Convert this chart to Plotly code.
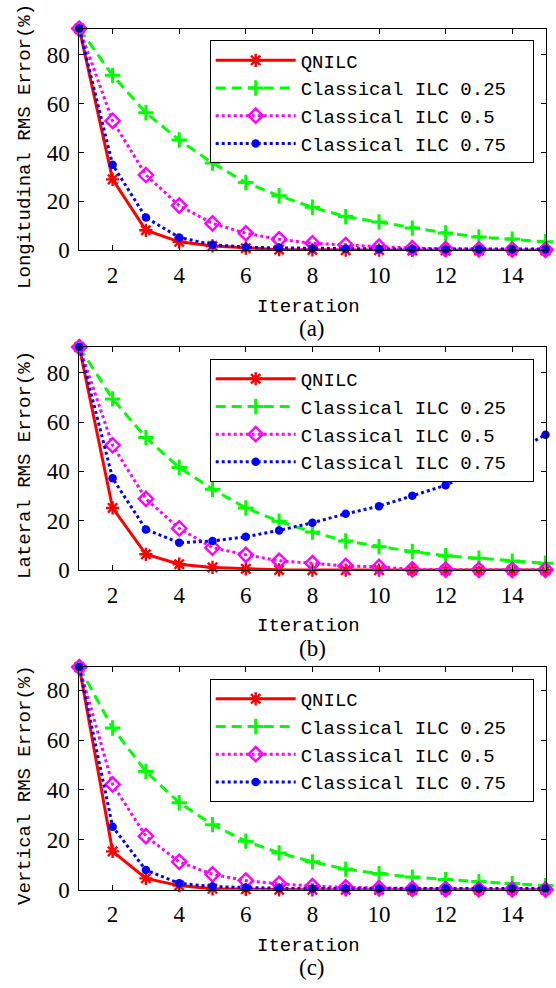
import plotly.graph_objects as go

# ---- data -------------------------------------------------------------
iterations = list(range(1, 16))

series_names = ["QNILC", "Classical ILC 0.25", "Classical ILC 0.5", "Classical ILC 0.75"]

long_qnilc = [90.6, 29.0, 8.2, 3.5, 1.8, 0.9, 0.3, 0.2, 0.1, 0.1, 0.0, 0.0, 0.0, 0.0, 0.0]
long_ilc025 = [90.6, 71.5, 56.2, 45.1, 35.7, 27.7, 22.3, 17.6, 13.8, 11.6, 9.1, 7.1, 5.5, 4.6, 3.5]
long_ilc05 = [90.6, 52.9, 30.8, 18.3, 11.0, 7.0, 4.5, 2.9, 2.2, 1.5, 0.9, 0.6, 0.4, 0.3, 0.2]
long_ilc075 = [90.6, 35.0, 13.4, 5.3, 2.3, 1.3, 1.0, 0.8, 0.7, 0.6, 0.6, 0.5, 0.5, 0.5, 0.5]

lat_qnilc = [90.4, 25.2, 6.4, 2.4, 1.1, 0.5, 0.1, 0.0, 0.0, 0.0, 0.0, 0.0, 0.0, 0.0, 0.0]
lat_ilc025 = [90.4, 69.4, 53.7, 41.6, 32.8, 25.2, 19.8, 15.4, 11.8, 9.5, 7.5, 5.8, 4.8, 3.6, 2.8]
lat_ilc05 = [90.4, 50.6, 28.9, 16.9, 9.1, 6.2, 3.8, 2.8, 1.7, 1.3, 0.3, 0.2, 0.1, 0.1, 0.1]
lat_ilc075 = [90.4, 37.2, 16.5, 11.1, 11.8, 13.5, 16.1, 19.2, 22.8, 25.9, 30.1, 34.4, 40.5, 47.3, 54.9]

vert_qnilc = [89.2, 15.4, 4.6, 1.7, 0.4, 0.2, 0.0, 0.0, 0.0, 0.0, 0.0, 0.0, 0.0, 0.0, 0.0]
vert_ilc025 = [89.2, 64.8, 47.4, 34.9, 26.1, 19.5, 14.8, 11.2, 8.3, 6.5, 5.1, 4.1, 3.3, 2.5, 1.7]
vert_ilc05 = [89.2, 42.2, 21.5, 11.2, 6.2, 3.7, 2.4, 1.5, 1.0, 0.7, 0.4, 0.3, 0.2, 0.2, 0.1]
vert_ilc075 = [89.2, 25.3, 7.9, 2.6, 1.3, 0.8, 0.6, 0.5, 0.5, 0.5, 0.5, 0.5, 0.5, 0.5, 0.5]

y_titles = ["Longitudinal RMS Error(%)", "Lateral RMS Error(%)", "Vertical RMS Error(%)"]
captions = ["(a)", "(b)", "(c)"]
x_title = "Iteration"
x_ticks = [2, 4, 6, 8, 10, 12, 14]
y_ticks = [0, 20, 40, 60, 80]

panel_data = [
    [long_qnilc, long_ilc025, long_ilc05, long_ilc075],
    [lat_qnilc, lat_ilc025, lat_ilc05, lat_ilc075],
    [vert_qnilc, vert_ilc025, vert_ilc05, vert_ilc075],
]

# ---- geometry (pixels) ------------------------------------------------
W, H = 556, 988
PLOT_LEFT, PLOT_RIGHT = 79.3, 545.5
PANELS = [(29.0, 253.7), (351.7, 577.7), (676.0, 901.7)]  # (top, bottom)
LEGEND_RIGHT = 533.7
LEGEND_TOP_OFFSET = 12.0
LEGEND_SYMBOL_W = 80
LEGEND_TEXT_W = 227

TEXT_FONT = "Liberation Mono"
NUM_FONT = "Liberation Serif"


def px_x(x):
    return x / W


def px_y(y):
    return 1 - y / H


styles = [
    dict(color="#FF0000", dash="solid", symbol="asterisk-open", size=11, mlw=2.4),
    dict(color="#00FF00", dash="10px,6px", symbol="cross-thin-open", size=11, mlw=3.0),
    dict(color="#FF00FF", dash="3px,3px", symbol="diamond-open", size=11, mlw=2.4),
    dict(color="#0000FF", dash="3px,3px", symbol="circle", size=8.5, mlw=0),
]

fig = go.Figure()

for p, series in enumerate(panel_data):
    suffix = "" if p == 0 else str(p + 1)
    for s, (name, vals) in enumerate(zip(series_names, series)):
        st = styles[s]
        marker = dict(symbol=st["symbol"], size=st["size"], color=st["color"])
        if st["mlw"]:
            marker["line"] = dict(color=st["color"], width=st["mlw"])
        fig.add_trace(go.Scatter(
            x=iterations, y=vals, name=name, mode="lines+markers",
            line=dict(color=st["color"], width=3.0, dash=st["dash"]),
            marker=marker, cliponaxis=False,
            xaxis="x" + suffix, yaxis="y" + suffix,
            legend="legend" + suffix,
        ))

layout = dict(
    width=W, height=H,
    margin=dict(l=0, r=0, t=0, b=0),
    paper_bgcolor="white", plot_bgcolor="white",
    showlegend=True,
)

axis_common = dict(
    showline=True, linecolor="black", linewidth=1, mirror="ticks",
    ticks="inside", ticklen=5, tickwidth=1, tickcolor="black",
    showgrid=False, zeroline=False,
    tickfont=dict(family=NUM_FONT, size=23, color="black"),
)

annotations = []
for p, (top, bottom) in enumerate(PANELS):
    suffix = "" if p == 0 else str(p + 1)
    ymax = panel_data[p][0][0]
    layout["xaxis" + suffix] = dict(
        axis_common, domain=[px_x(PLOT_LEFT), px_x(PLOT_RIGHT)],
        range=[1, 15], tickvals=x_ticks, anchor="y" + suffix,
        ticklabelstandoff=4,
    )
    layout["yaxis" + suffix] = dict(
        axis_common, domain=[px_y(bottom), px_y(top)],
        range=[0, ymax], tickvals=y_ticks, anchor="x" + suffix,
        ticklabelstandoff=4,
    )
    # one entry per row: a fixed entry width wider than half the page
    layout["legend" + suffix] = dict(
        orientation="h", entrywidth=LEGEND_TEXT_W, entrywidthmode="pixels",
        x=px_x(LEGEND_RIGHT), xanchor="right",
        y=px_y(top + LEGEND_TOP_OFFSET), yanchor="top",
        bgcolor="white", bordercolor="black", borderwidth=1,
        font=dict(family=TEXT_FONT, size=19, color="black"),
        itemwidth=LEGEND_SYMBOL_W, traceorder="normal",
    )
    mid = (top + bottom) / 2
    annotations.append(dict(
        text=y_titles[p], textangle=-90, showarrow=False,
        xref="paper", yref="paper", x=px_x(25.5), y=px_y(mid + 7),
        xanchor="center", yanchor="middle",
        font=dict(family=TEXT_FONT, size=19, color="black"),
    ))
    annotations.append(dict(
        text=x_title, showarrow=False,
        xref="paper", yref="paper", x=px_x(308.5), y=px_y(bottom + 57),
        xanchor="center", yanchor="middle",
        font=dict(family=TEXT_FONT, size=19, color="black"),
    ))
    annotations.append(dict(
        text=captions[p], showarrow=False,
        xref="paper", yref="paper", x=px_x(312), y=px_y(bottom + 79),
        xanchor="center", yanchor="middle",
        font=dict(family=NUM_FONT, size=23, color="black"),
    ))

layout["annotations"] = annotations
fig.update_layout(**layout)

fig.write_html("out.html")
